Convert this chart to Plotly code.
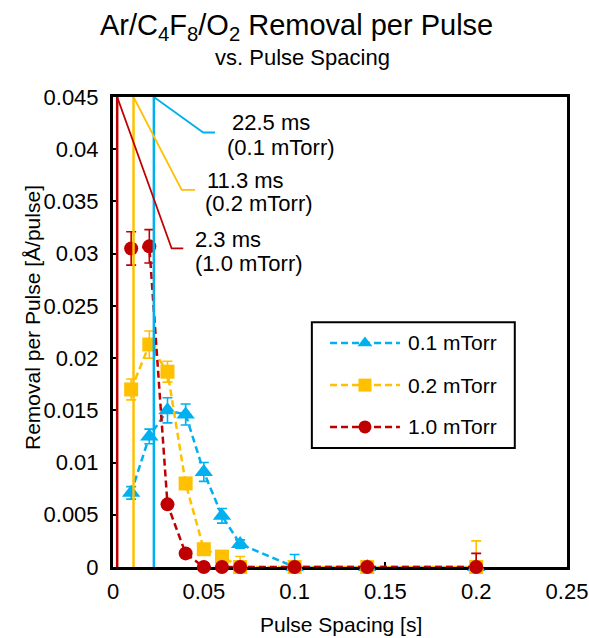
import plotly.graph_objects as go

# Pulse spacing [s]
spacing = [0.01, 0.02, 0.03, 0.04, 0.05, 0.06, 0.07, 0.1, 0.14, 0.2]

# Removal per pulse [Å/pulse] and error bars for each pressure
rem_01 = [0.0071, 0.0125, 0.0150, 0.0146, 0.0091, 0.0049, 0.0022, 0.0, 0.0, 0.0]
err_01 = [0.0006, 0.0007, 0.0012, 0.0010, 0.0009, 0.0007, 0.0004, 0.0012, 0.0005, 0.0]
rem_02 = [0.0170, 0.0213, 0.0187, 0.0080, 0.0017, 0.0010, 0.0, 0.0, 0.0, 0.0]
err_02 = [0.0010, 0.0013, 0.0010, 0.0003, 0.0003, 0.0003, 0.0010, 0.0002, 0.0002, 0.0025]
rem_10 = [0.0305, 0.0307, 0.0060, 0.0013, 0.0, 0.0, 0.0, 0.0, 0.0, 0.0]
err_10 = [0.0016, 0.0016, 0.0003, 0.0003, 0.0002, 0.0002, 0.0002, 0.0002, 0.0002, 0.0013]

series_names = ["0.1 mTorr", "0.2 mTorr", "1.0 mTorr"]
# Characteristic pulse spacing [ms] for each pressure
char_ms = [22.5, 11.3, 2.3]

x_ticks = [0, 0.05, 0.1, 0.15, 0.2, 0.25]
y_ticks = [0, 0.005, 0.01, 0.015, 0.02, 0.025, 0.03, 0.035, 0.04, 0.045]

colors = ["#00B0F0", "#FFC000", "#C00000"]
symbols = ["triangle-up", "square", "circle"]
FONT = "Liberation Sans, Arial, sans-serif"
TXT = 22
DASH = "7px,4px"
Y_MAX = 0.045

fig = go.Figure()

for name, ys, errs, col, sym in zip(series_names, [rem_01, rem_02, rem_10],
                                    [err_01, err_02, err_10], colors, symbols):
    err_minus = [e if y > 0 else 0 for y, e in zip(ys, errs)]
    fig.add_trace(go.Scatter(
        x=spacing, y=ys, mode="lines+markers", name=name, showlegend=False,
        line=dict(color=col, width=2.5, dash=DASH),
        marker=dict(symbol=sym, size=14 if sym != "triangle-up" else 16, color=col),
        error_y=dict(type="data", array=errs, arrayminus=err_minus,
                     color=col, thickness=1.6, width=5),
        cliponaxis=False,
    ))

# Vertical markers at the characteristic spacing, with elbow leader lines to labels
label_pos = [  # elbow x, elbow y, end x, text x (line 1), text x (line 2), text y1, text y2
    (0.0497, 0.0416, 0.0562, 0.0644, 0.0617, 0.0426, 0.0402),
    (0.0378, 0.0361, 0.0452, 0.0506, 0.0495, 0.0370, 0.0348),
    (0.0323, 0.0305, 0.0387, 0.0443, 0.0443, 0.0314, 0.0291),
]
for ms, name, col, (ex, ey, endx, tx1, tx2, ty1, ty2) in zip(char_ms, series_names, colors, label_pos):
    xv = ms / 1000.0
    fig.add_trace(go.Scatter(x=[xv, xv], y=[0, Y_MAX], mode="lines", showlegend=False,
                             line=dict(color=col, width=2.5), cliponaxis=False,
                             hoverinfo="skip"))
    fig.add_trace(go.Scatter(x=[xv, ex, endx], y=[Y_MAX, ey, ey], mode="lines",
                             showlegend=False, line=dict(color=col, width=1.8),
                             cliponaxis=False, hoverinfo="skip"))
    fig.add_annotation(x=tx1, y=ty1, xref="x", yref="y", text=f"{ms:g} ms",
                       showarrow=False, xanchor="left", yanchor="middle",
                       font=dict(family=FONT, size=TXT, color="black"))
    fig.add_annotation(x=tx2, y=ty2, xref="x", yref="y", text=f"({name})",
                       showarrow=False, xanchor="left", yanchor="middle",
                       font=dict(family=FONT, size=TXT, color="black"))

# Legend drawn on an overlay axis spanning the plot area (0..1 in both directions)
leg_box = (0.438, 0.885, 0.253, 0.521)
leg_rows = [0.4766, 0.387, 0.298]
leg_line = (0.478, 0.632)
leg_text_x = 0.645
fig.add_shape(type="rect", xref="paper", yref="paper",
              x0=leg_box[0], x1=leg_box[1], y0=leg_box[2], y1=leg_box[3],
              line=dict(color="black", width=2), fillcolor="white", layer="below")
for name, col, sym, ry in zip(series_names, colors, symbols, leg_rows):
    fig.add_trace(go.Scatter(
        x=[leg_line[0], (leg_line[0] + leg_line[1]) / 2, leg_line[1]], y=[ry, ry, ry],
        xaxis="x2", yaxis="y2", mode="lines", showlegend=False, hoverinfo="skip",
        line=dict(color=col, width=2.5, dash=DASH)))
    fig.add_trace(go.Scatter(
        x=[(leg_line[0] + leg_line[1]) / 2], y=[ry], xaxis="x2", yaxis="y2",
        mode="markers", showlegend=False, hoverinfo="skip",
        marker=dict(symbol=sym, size=13, color=col)))
    fig.add_annotation(x=leg_text_x, y=ry, xref="paper", yref="paper", text=name,
                       showarrow=False, xanchor="left", yanchor="middle",
                       font=dict(family=FONT, size=TXT - 1, color="black"))

# Title and subtitle
fig.add_annotation(x=0.404, y=1.149, xref="paper", yref="paper",
                   text="Ar/C<sub>4</sub>F<sub>8</sub>/O<sub>2</sub> Removal per Pulse",
                   showarrow=False, xanchor="center", yanchor="middle",
                   font=dict(family=FONT, size=29, color="black"))
fig.add_annotation(x=0.4185, y=1.085, xref="paper", yref="paper",
                   text="vs. Pulse Spacing", showarrow=False,
                   xanchor="center", yanchor="middle",
                   font=dict(family=FONT, size=22, color="black"))

# Axis titles
fig.add_annotation(x=0.502, y=-0.1234, xref="paper", yref="paper",
                   text="Pulse Spacing [s]", showarrow=False,
                   xanchor="center", yanchor="middle",
                   font=dict(family=FONT, size=21, color="black"))
fig.add_annotation(x=-0.176, y=0.53, xref="paper", yref="paper",
                   text="Removal per Pulse [Å/pulse]", showarrow=False, textangle=-90,
                   xanchor="center", yanchor="middle",
                   font=dict(family=FONT, size=21, color="black"))

axis_common = dict(showgrid=False, zeroline=False, showline=True, linecolor="black",
                   linewidth=3, mirror=True, ticks="inside", ticklen=5, tickwidth=2,
                   tickcolor="black", layer="below traces", automargin=False,
                   tickfont=dict(family=FONT, size=TXT, color="black"))

fig.update_layout(
    width=589, height=638,
    margin=dict(l=113, r=22, t=97, b=71),
    paper_bgcolor="white", plot_bgcolor="white",
    showlegend=False,
    xaxis=dict(range=[0, 0.25], tickvals=x_ticks, ticklabelstandoff=3, **axis_common),
    yaxis=dict(range=[0, Y_MAX], tickvals=y_ticks, ticklabelstandoff=7, **axis_common),
    xaxis2=dict(range=[0, 1], overlaying="x", visible=False, fixedrange=True),
    yaxis2=dict(range=[0, 1], overlaying="y", visible=False, fixedrange=True),
)

fig.write_html("out.html")
